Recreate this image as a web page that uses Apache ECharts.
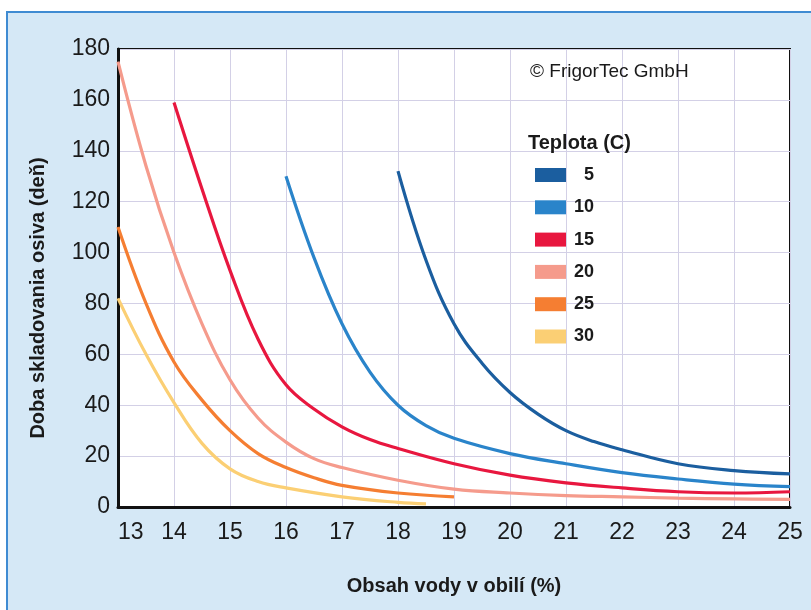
<!DOCTYPE html>
<html>
<head>
<meta charset="utf-8">
<script src="https://cdn.jsdelivr.net/npm/echarts@6/dist/echarts.min.js"></script>
<style>html,body{margin:0;padding:0;background:#fff}#c{width:811px;height:610px}</style>
</head>
<body>
<div id="c"></div>
<script>
// ---- data ----
const xTicks = [13, 14, 15, 16, 17, 18, 19, 20, 21, 22, 23, 24, 25];
const seriesNames = ['5', '10', '15', '20', '25', '30'];

const x5  = [18, 18.5, 19, 19.5, 20, 20.5, 21, 21.5, 22, 23, 24, 25];
const y5  = [132, 97, 72, 56.5, 45, 36.5, 30, 25.7, 22.5, 17, 14.3, 13];

const x10 = [16, 16.5, 17, 17.5, 18, 18.5, 19, 20, 21, 22, 23, 24, 25];
const y10 = [130, 98, 72, 53, 40, 32, 27, 21, 17, 13.5, 11, 9, 8];

const x15 = [14, 14.5, 15, 15.5, 16, 16.5, 17, 17.5, 18, 19, 20, 21, 22, 23, 24, 25];
const y15 = [159, 125, 93, 66, 48, 38.5, 31.5, 26.5, 23, 17, 12.5, 9.5, 7.5, 6, 5.5, 6];

const x20 = [13, 13.5, 14, 14.5, 15, 15.5, 16, 16.5, 17, 18, 19, 20, 21, 22, 23, 24, 25];
const y20 = [175, 134, 100, 72, 50, 35, 25.5, 19, 15.5, 10.5, 7, 5.5, 4.5, 4, 3.5, 3.2, 3];

const x25 = [13, 13.5, 14, 14.5, 15, 15.5, 16, 16.5, 17, 18, 19];
const y25 = [110, 80, 57, 42, 30, 21, 15.5, 11.5, 8.5, 5.5, 4];

const x30 = [13, 13.5, 14, 14.5, 15, 15.5, 16, 17, 18, 18.5];
const y30 = [82, 60, 41, 25, 15, 10, 7.5, 4, 1.8, 1.2];

const colors = ['#1b5e9f', '#2a84ca', '#e8173f', '#f59b8c', '#f57e32', '#fbcf74'];

// ---- build ----
const pairs = (xs, ys) => xs.map((x, i) => [x, ys[i]]);
const allX = [x5, x10, x15, x20, x25, x30];
const allY = [y5, y10, y15, y20, y25, y30];

const FONT = '"Liberation Sans", Arial, sans-serif';
const chart = echarts.init(document.getElementById('c'), null, {renderer: 'canvas'});

chart.setOption({
  backgroundColor: '#d5e8f6',
  animation: false,
  graphic: [
    {type: 'rect', shape: {x: 0, y: 0, width: 811, height: 11}, style: {fill: '#fff'}, z: -1},
    {type: 'rect', shape: {x: 0, y: 0, width: 6, height: 610}, style: {fill: '#fff'}, z: -1},
    {type: 'line', shape: {x1: 6, y1: 12, x2: 811, y2: 12}, style: {stroke: '#3f8bd2', lineWidth: 2}, z: -1},
    {type: 'line', shape: {x1: 7, y1: 12, x2: 7, y2: 610}, style: {stroke: '#3f8bd2', lineWidth: 2}, z: -1},
    {type: 'text', left: 530, top: 62, z: 10,
      style: {text: '\u00A9 FrigorTec GmbH', font: '19px ' + FONT, fill: '#1a1a1a'}},
    {type: 'text', x: 38, y: 298, rotation: Math.PI / 2, z: 10,
      style: {text: 'Doba skladovania osiva (deň)', font: 'bold 20px ' + FONT, fill: '#1a1a1a',
        align: 'center', verticalAlign: 'middle'}}
  ],
  title: {
    text: 'Teplota (C)', left: 523, top: 128,
    textStyle: {fontFamily: FONT, fontSize: 20, fontWeight: 'bold', color: '#1a1a1a'}
  },
  legend: {
    data: seriesNames, orient: 'vertical', left: 535, top: 166, padding: 0,
    icon: 'rect', itemWidth: 31, itemHeight: 14, itemGap: 14.3,
    formatter: n => n === '5' ? '  5' : n,
    textStyle: {fontFamily: FONT, fontSize: 18, fontWeight: 'bold', color: '#1a1a1a', padding: [0, 0, 0, 3]}
  },
  grid: {
    left: 118, right: 21, top: 49, bottom: 103,
    show: true, backgroundColor: '#ffffff', borderColor: '#111', borderWidth: 2
  },
  xAxis: {
    type: 'value', min: 13, max: 25, interval: 1,
    name: 'Obsah vody v obilí (%)', nameLocation: 'middle', nameGap: 69,
    nameTextStyle: {fontFamily: FONT, fontSize: 20, fontWeight: 'bold', color: '#1a1a1a'},
    axisLine: {lineStyle: {color: '#111', width: 3}},
    axisTick: {show: false},
    axisLabel: {fontFamily: FONT, fontSize: 23, color: '#1a1a1a', margin: 14,
      alignMinLabel: 'left',
      formatter: v => xTicks.includes(v) ? String(v) : ''},
    splitLine: {show: true, lineStyle: {color: '#d3d0e6', width: 1}}
  },
  yAxis: {
    type: 'value', min: 0, max: 180, interval: 20,
    axisLine: {show: true, lineStyle: {color: '#111', width: 3}},
    axisTick: {show: false},
    axisLabel: {fontFamily: FONT, fontSize: 23, color: '#1a1a1a', margin: 8},
    splitLine: {show: true, lineStyle: {color: '#d3d0e6', width: 1}}
  },
  series: seriesNames.map((n, i) => ({
    name: n, type: 'line', smooth: 0.4, showSymbol: false, symbol: 'none',
    data: pairs(allX[i], allY[i]),
    color: colors[i],
    lineStyle: {width: 3.2, color: colors[i]},
    z: 3
  }))
});
</script>
</body>
</html>
